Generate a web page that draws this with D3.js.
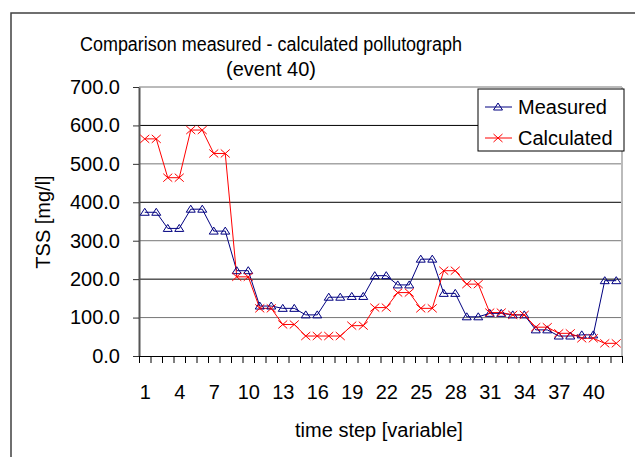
<!DOCTYPE html>
<html>
<head>
<meta charset="utf-8">
<script src="https://cdn.jsdelivr.net/npm/d3@7"></script>
<style>
body {margin:0; background:white;}
text {font-family:"Liberation Sans", Arial, sans-serif; fill:black;}
</style>
</head>
<body>
<svg></svg>
<script>
var screen = {width:635,height:457}
var plot = {left:139,right:622,top:87,bottom:356}

//data
var steps = d3.range(1,43)
var measured = [374,374,332,332,382,382,325,325,222,222,130,130,124,124,107,107,153,153,155,155,
    209,209,185,185,252,252,163,163,102,102,111,111,107,107,68,68,52,52,55,55,196,196]
var calculated = [565,565,464,464,588,588,527,527,206,206,124,124,82,82,52,52,52,52,79,79,
    126,126,165,165,124,124,222,222,187,187,113,113,107,107,75,75,59,59,46,46,33,33]
var yTicks = [0,100,200,300,400,500,600,700]
var xLabels = [1,4,7,10,13,16,19,22,25,28,31,34,37,40]
var seriesNames = ["Measured","Calculated"]

var svg = d3.select("svg")
    .attr("width",screen.width)
    .attr("height",screen.height)

//outer chart border (runs off the picture right and bottom)
svg.append("rect")
    .attr("x",11).attr("y",13)
    .attr("width",700).attr("height",600)
    .attr("fill","white")
    .attr("stroke","#404040")
    .attr("stroke-width",1.5)

var xScale = d3.scaleLinear()
    .domain([0.5,42.5])
    .range([plot.left,plot.right])

var yScale = d3.scaleLinear()
    .domain([0,700])
    .range([plot.bottom,plot.top])

//gridlines
svg.append("g")
    .selectAll("line")
    .data(yTicks.filter(function(d){return d>0}))
    .enter()
    .append("line")
    .attr("x1",plot.left).attr("x2",plot.right)
    .attr("y1",function(d){return yScale(d)})
    .attr("y2",function(d){return yScale(d)})
    .attr("stroke",function(d){return (d/100)%2==0 ? "#000" : "#777"})
    .attr("stroke-width",1)

//right border of plot area
svg.append("line")
    .attr("x1",plot.right).attr("x2",plot.right)
    .attr("y1",plot.top).attr("y2",plot.bottom)
    .attr("stroke","#bbb")
    .attr("stroke-width",2)

//y axis
var yAxis = d3.axisLeft(yScale)
    .tickValues(yTicks)
    .tickFormat(d3.format(".1f"))
    .tickSize(6)
    .tickSizeOuter(0)
    .tickPadding(13)
svg.append("g")
    .attr("transform","translate("+plot.left+",0)")
    .call(yAxis)
    .call(function(g){
        g.select(".domain").attr("stroke","#555").attr("stroke-width",2)
        g.selectAll(".tick line").attr("stroke","#333")
        g.selectAll("text").attr("font-size",20).attr("font-family",null).attr("fill","black")
    })

//x axis ticks between categories
var xTickAxis = d3.axisBottom(xScale)
    .tickValues(d3.range(0.5,43,1))
    .tickFormat("")
    .tickSize(7)
    .tickSizeOuter(0)
svg.append("g")
    .attr("transform","translate(0,"+plot.bottom+")")
    .call(xTickAxis)
    .call(function(g){
        g.select(".domain").attr("stroke","#000")
        g.selectAll(".tick line").attr("stroke","#000")
    })

//x axis labels every 3 steps
var xLabelAxis = d3.axisBottom(xScale)
    .tickValues(xLabels)
    .tickSize(0)
    .tickPadding(29)
svg.append("g")
    .attr("transform","translate(0,"+plot.bottom+")")
    .call(xLabelAxis)
    .call(function(g){
        g.select(".domain").remove()
        g.selectAll("text").attr("font-size",20).attr("font-family",null).attr("fill","black")
    })

//series
var line = d3.line()
    .x(function(d,i){return xScale(steps[i])})
    .y(function(d){return yScale(d)})

svg.append("path")
    .datum(measured)
    .attr("d",line)
    .attr("fill","none")
    .attr("stroke","#000080")
    .attr("stroke-width",1)

svg.append("path")
    .datum(calculated)
    .attr("d",line)
    .attr("fill","none")
    .attr("stroke","#ff0000")
    .attr("stroke-width",1)

var triangle = "M0,-4L4.5,3L-4.5,3Z"
var cross = "M-4.5,-4L4.5,4M-4.5,4L4.5,-4"

svg.append("g")
    .selectAll("path")
    .data(measured)
    .enter()
    .append("path")
    .attr("d",triangle)
    .attr("transform",function(d,i){return "translate("+xScale(steps[i])+","+yScale(d)+")"})
    .attr("fill","none")
    .attr("stroke","#000080")
    .attr("stroke-width",1)

svg.append("g")
    .selectAll("path")
    .data(calculated)
    .enter()
    .append("path")
    .attr("d",cross)
    .attr("transform",function(d,i){return "translate("+xScale(steps[i])+","+yScale(d)+")"})
    .attr("fill","none")
    .attr("stroke","#ff0000")
    .attr("stroke-width",1)

//title (narrow font in the original, so squeeze it a little)
var title = svg.append("text")
    .attr("text-anchor","middle")
    .attr("font-size",20)
title.append("tspan").attr("x",271).attr("y",51)
    .attr("textLength",382).attr("lengthAdjust","spacingAndGlyphs")
    .text("Comparison measured - calculated pollutograph")
title.append("tspan").attr("x",271).attr("y",76)
    .attr("textLength",90).attr("lengthAdjust","spacingAndGlyphs")
    .text("(event 40)")

//axis titles
svg.append("text")
    .attr("x",379).attr("y",437)
    .attr("text-anchor","middle")
    .attr("font-size",20)
    .text("time step [variable]")

svg.append("text")
    .attr("transform","translate(50,222) rotate(-90)")
    .attr("text-anchor","middle")
    .attr("font-size",20)
    .text("TSS [mg/l]")

//legend
var legend = svg.append("g")
legend.append("rect")
    .attr("x",478).attr("y",89)
    .attr("width",146).attr("height",62)
    .attr("fill","white")
    .attr("stroke","#000")
    .attr("stroke-width",1)

var colors = ["#000080","#ff0000"]
var shapes = [triangle,cross]
var rows = legend.selectAll(".entry")
    .data(seriesNames)
    .enter()
    .append("g")
    .attr("class","entry")
    .attr("transform",function(d,i){return "translate(0,"+(107+i*31)+")"})
rows.append("line")
    .attr("x1",485).attr("x2",512)
    .attr("stroke",function(d,i){return colors[i]})
rows.append("path")
    .attr("d",function(d,i){return shapes[i]})
    .attr("transform","translate(498,0)")
    .attr("fill","none")
    .attr("stroke",function(d,i){return colors[i]})
rows.append("text")
    .attr("x",518).attr("y",7)
    .attr("font-size",20)
    .text(function(d){return d})
</script>
</body>
</html>
